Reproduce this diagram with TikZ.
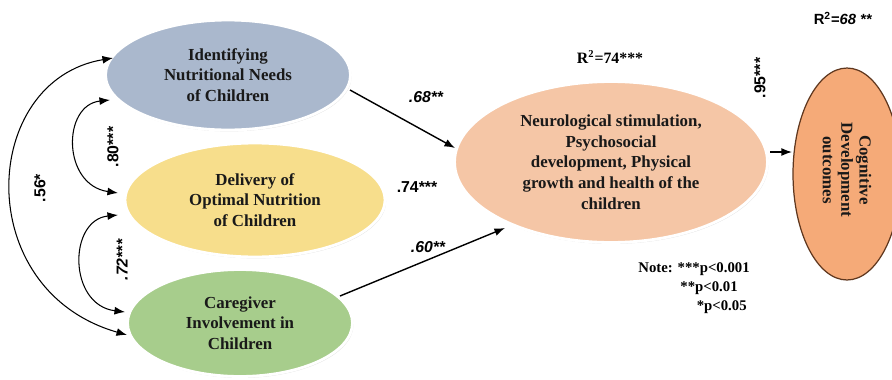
\documentclass[tikz,border=0pt]{standalone}
\usepackage{fontspec}
\setmainfont{Liberation Serif}
\setsansfont{Liberation Sans}
\usetikzlibrary{shapes.geometric,arrows.meta,shadows}
\definecolor{cblue}{RGB}{170,184,205}
\definecolor{cyellow}{RGB}{247,222,140}
\definecolor{cgreen}{RGB}{167,205,140}
\definecolor{cpeach}{RGB}{245,198,166}
\definecolor{corange}{RGB}{245,170,120}
\definecolor{cbrown}{RGB}{95,55,30}
\begin{document}
\begin{tikzpicture}[x=0.02cm,y=-0.02cm,
  ell/.style={ellipse,draw=white,line width=1.6pt,inner sep=0pt,align=center,
    font=\bfseries\fontsize{9.6}{11.8}\selectfont,text=black!90,
    drop shadow={opacity=0.25,shadow xshift=0.6pt,shadow yshift=-0.8pt}},
  coef/.style={font=\sffamily\bfseries\itshape\fontsize{9}{10}\selectfont,inner sep=1pt},
  coefup/.style={font=\sffamily\bfseries\fontsize{9}{10}\selectfont,inner sep=1pt},
  arr/.style={-{Latex[length=6pt,width=4.5pt]},line width=0.8pt},
  darr/.style={{Latex[length=6pt,width=4.5pt]}-{Latex[length=6pt,width=4.5pt]},line width=0.6pt},
  note/.style={font=\bfseries\fontsize{8.4}{10}\selectfont,inner sep=0pt}]
\useasboundingbox (0,0) rectangle (892,379);
\clip (0,0) rectangle (892,379);

\node[ell,fill=cblue,minimum width=4.9cm,minimum height=2.2cm] (ident) at (228,75)
  {Identifying\\Nutritional Needs\\of Children};
\node[ell,fill=cyellow,minimum width=5.2cm,minimum height=2.28cm] (deliv) at (255,200)
  {Delivery of\\Optimal Nutrition\\of Children};
\node[ell,fill=cgreen,minimum width=4.5cm,minimum height=2.14cm] (care) at (240,323)
  {Caregiver\\Involvement in\\Children};
\node[ell,fill=cpeach,minimum width=6.26cm,minimum height=3.22cm] (neuro) at (611,162)
  {Neurological stimulation,\\Psychosocial\\development, Physical\\growth and health of the\\children};
\node[ellipse,draw=cbrown,line width=0.7pt,fill=corange,minimum width=2.16cm,minimum height=4.24cm,inner sep=0pt] (cog) at (847,174) {};
\node[rotate=-90,align=center,font=\bfseries\fontsize{9.6}{10.5}\selectfont,text=black!90] (cogtext) at (847,170)
  {Cognitive\\Development\\outcomes};

% arrows
\coordinate (identout) at (350,90);
\coordinate (neuroinA) at (455,148);
\draw[arr] (identout) -- (neuroinA);
\coordinate (careout) at (340,296);
\coordinate (neuroinB) at (505,228);
\draw[arr] (careout) -- (neuroinB);
\coordinate (neuroout) at (770,152);
\coordinate (cogin) at (792,152);
\draw[arr] (neuroout) -- (cogin);

% correlations
\coordinate (iA) at (110,100);
\coordinate (dA) at (118,193);
\coordinate (dB) at (118,215);
\coordinate (cA) at (125,312);
\coordinate (iB) at (113,58);
\coordinate (cB) at (127,335);
\draw[darr] (iA) .. controls (62,105) and (62,185) .. (dA);
\draw[darr] (dB) .. controls (68,220) and (68,305) .. (cA);
\draw[darr] (iB) .. controls (-20,80) and (-30,290) .. (cB);

% labels
\node[coefup,rotate=90] (l80) at (113,147) {.80***};
\node[coef,rotate=90] (l72) at (122,260) {.72***};
\node[coefup,rotate=90] (l56) at (40,188) {.56*};
\node[coef] (l68) at (426,97) {.68**};
\node[coefup] (l74) at (417,187) {.74***};
\node[coef] (l60) at (428,247) {.60**};
\node[coefup,rotate=90] (l95) at (760,78) {.95***};
\node[font=\bfseries\fontsize{9}{10}\selectfont] (r74) at (610,57) {R\textsuperscript{2}=74***};
\node[font=\sffamily\bfseries\fontsize{8.4}{9}\selectfont] (r68) at (843,18) {R\textsuperscript{2}=\textit{68 **}};

\node[note,anchor=east] (n1) at (750,269) {Note: ***p<0.001};
\node[note,anchor=east] (n2) at (738,288) {**p<0.01};
\node[note,anchor=east] (n3) at (747,307) {*p<0.05};
\end{tikzpicture}
\end{document}
